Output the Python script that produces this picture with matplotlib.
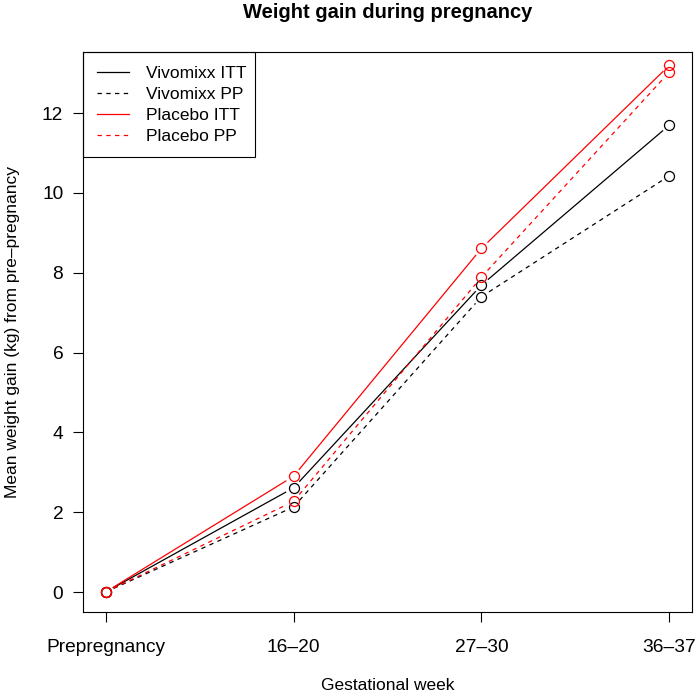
import numpy as np
import matplotlib
matplotlib.use("Agg")
import matplotlib.pyplot as plt
from matplotlib.patches import Rectangle

plt.rcParams['font.family'] = ['Liberation Sans', 'DejaVu Sans']

weeks = ["Prepregnancy", "16\u201320", "27\u201330", "36\u201337"]
vivo_itt = [0, 2.61, 7.69, 11.70]
vivo_pp = [0, 2.13, 7.40, 10.43]
plac_itt = [0, 2.90, 8.61, 13.20]
plac_pp = [0, 2.27, 7.89, 13.03]

series = [
    ("Vivomixx ITT", vivo_itt, "black", "-"),
    ("Vivomixx PP", vivo_pp, "black", "--"),
    ("Placebo ITT", plac_itt, "red", "-"),
    ("Placebo PP", plac_pp, "red", "--"),
]

W, H = 696, 694
fig = plt.figure(figsize=(W/100, H/100), dpi=100)
ax = fig.add_axes([83/W, 1 - 612/H, (692-83)/W, (612-52)/H])
x = np.arange(1, len(weeks) + 1)
ax.set_xlim(0.88, 4.12)
ax.set_ylim(-0.5, 13.53)
fig.canvas.draw()

gap = 9  # px, like R type="b"
inv = ax.transData.inverted()
for name, vals, col, ls in series:
    pts = ax.transData.transform(np.column_stack([x, vals]))
    for i in range(len(pts) - 1):
        p0, p1 = pts[i], pts[i+1]
        d = p1 - p0
        L = np.hypot(*d)
        if L <= 2 * gap:
            continue
        u = d / L
        a = inv.transform(p0 + u * gap)
        b = inv.transform(p1 - u * gap)
        line, = ax.plot([a[0], b[0]], [a[1], b[1]], color=col, lw=0.9)
        if ls == "--":
            line.set_dashes((3.5, 3.5))
    ax.plot(x, vals, linestyle="none", marker="o", ms=7.2, mfc="none",
            mec=col, mew=0.9)
    h, = ax.plot([], [], color=col, lw=0.9, label=name)
    if ls == "--":
        h.set_dashes((3.5, 3.5))

ax.set_xticks(x)
ax.set_xticklabels(weeks, fontsize=13.8)
ax.set_yticks(np.arange(0, 13, 2))
ax.set_yticklabels([str(v) for v in range(0, 13, 2)], fontsize=13.8)
ax.tick_params(length=7.2, width=0.8)
ax.tick_params(axis="x", pad=12)
ax.tick_params(axis="y", pad=7)
for s in ax.spines.values():
    s.set_linewidth(0.8)

ax.set_xlabel("Gestational week", fontsize=12.5, labelpad=16)
ax.set_ylabel("Mean weight gain (kg) from pre\u2013pregnancy", fontsize=12.5, labelpad=16)
fig.text(388/W, 1 - 12/H, "Weight gain during pregnancy", fontsize=14.5,
         fontweight="bold", ha="center", va="center")

leg = ax.legend(loc="upper left", fontsize=12.5, frameon=False,
                borderaxespad=0, handlelength=1.85, handletextpad=0.95,
                labelspacing=0.33, borderpad=0.8)
fig.patches.append(Rectangle((83/W, 1 - 157/H), (255-83)/W, (157-52)/H,
                             transform=fig.transFigure, fill=False,
                             edgecolor="black", lw=0.8, zorder=5))

fig.savefig("out.png", dpi=100)
